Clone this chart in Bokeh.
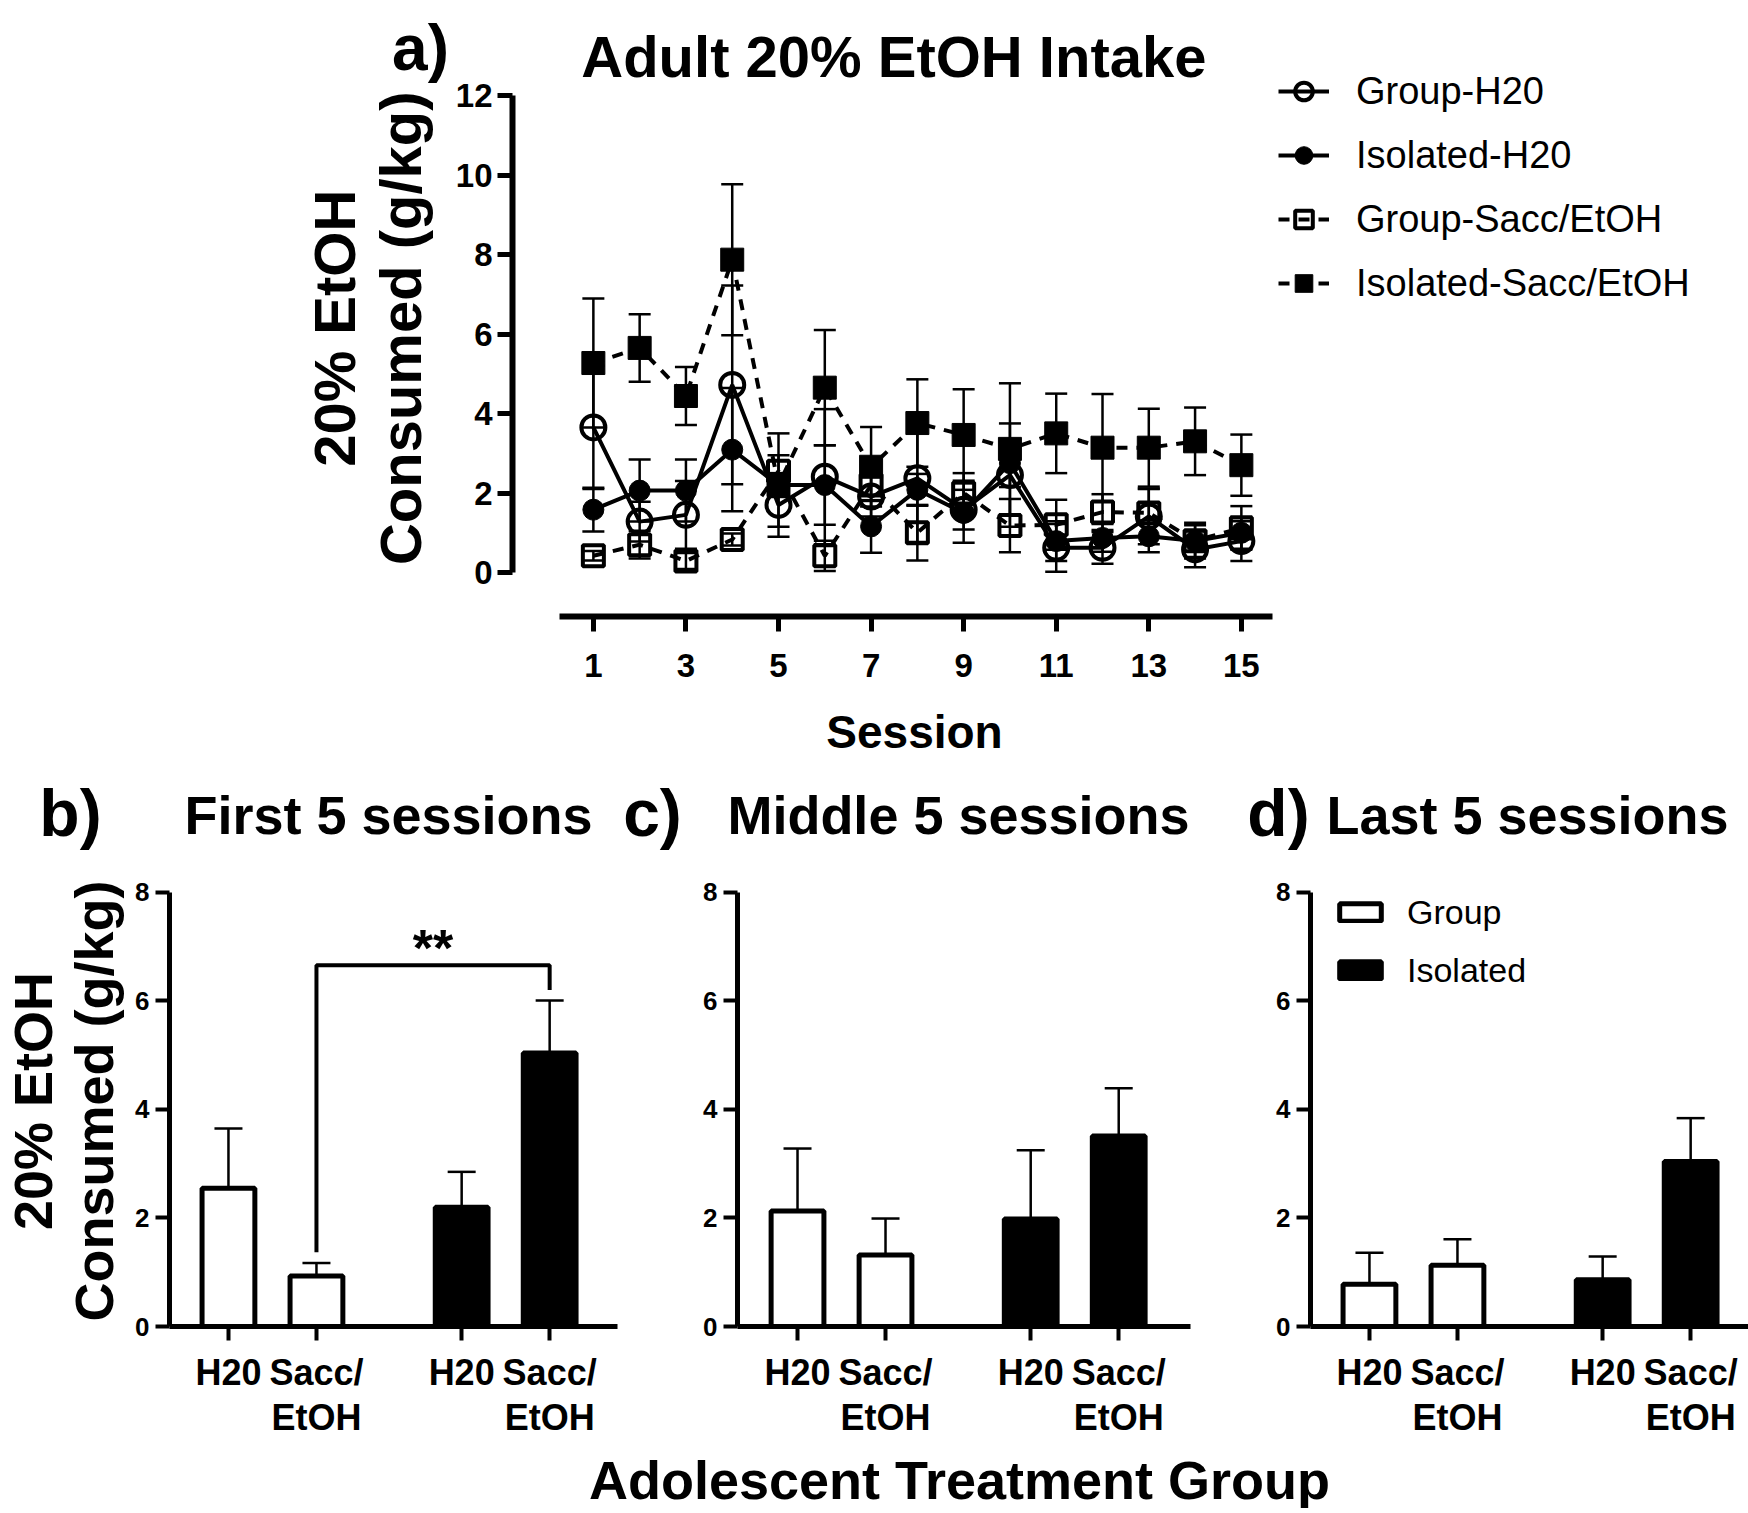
import math
from bokeh.plotting import figure
from bokeh.models import (Range1d, FixedTicker, Whisker, TeeHead, ColumnDataSource,
                          Legend, LegendItem, Label)
from bokeh.layouts import column, row
from bokeh.embed import file_html
from bokeh.resources import INLINE
from bokeh.core.properties import value

FONT = "Liberation Sans"

# ---------------- data ----------------
sessions = [1, 2, 3, 4, 5, 6, 7, 8, 9, 10, 11, 12, 13, 14, 15]
session_ticks = [1, 3, 5, 7, 9, 11, 13, 15]
intake_ticks = [0, 2, 4, 6, 8, 10, 12]

group_h2o_mean = [3.65, 1.28, 1.45, 4.72, 1.70, 2.41, 1.91, 2.37, 1.58, 2.45, 0.62, 0.62, 1.41, 0.58, 0.79]
group_h2o_sem = [1.55, 0.50, 0.85, 2.50, 0.55, 1.70, 0.50, 1.60, 0.50, 1.30, 0.60, 0.40, 0.70, 0.45, 0.50]
iso_h2o_mean = [1.58, 2.06, 2.06, 3.09, 2.20, 2.20, 1.16, 2.08, 1.50, 2.75, 0.79, 0.87, 0.91, 0.79, 1.00]
iso_h2o_sem = [0.55, 0.78, 0.78, 1.55, 0.30, 1.00, 0.66, 0.40, 0.75, 0.60, 0.50, 0.35, 0.40, 0.40, 0.40]
group_sacc_mean = [0.42, 0.70, 0.29, 0.83, 2.55, 0.42, 2.20, 1.00, 2.00, 1.18, 1.20, 1.52, 1.50, 0.80, 1.12]
group_sacc_sem = [0.12, 0.35, 0.20, 0.15, 0.40, 0.38, 0.40, 0.70, 0.50, 0.67, 0.63, 0.45, 0.60, 0.45, 0.55]
iso_sacc_mean = [5.27, 5.65, 4.44, 7.87, 2.20, 4.65, 2.66, 3.76, 3.46, 3.11, 3.50, 3.14, 3.14, 3.30, 2.70]
iso_sacc_sem = [1.62, 0.85, 0.73, 1.90, 1.30, 1.45, 1.00, 1.10, 1.15, 1.65, 1.00, 1.35, 0.98, 0.85, 0.77]

series_names = ["Group-H20", "Isolated-H20", "Group-Sacc/EtOH", "Isolated-Sacc/EtOH"]

bar_positions = [1, 2, 3.65, 4.65]
bar_labels = ["H20", "Sacc/\nEtOH", "H20", "Sacc/\nEtOH"]
bar_housing = ["Group", "Group", "Isolated", "Isolated"]
bar_ticks = [0, 2, 4, 6, 8]

first5_mean = [2.55, 0.93, 2.20, 5.04]
first5_sem = [1.10, 0.24, 0.65, 0.97]
middle5_mean = [2.13, 1.32, 1.98, 3.51]
middle5_sem = [1.15, 0.67, 1.27, 0.88]
last5_mean = [0.78, 1.13, 0.86, 3.04]
last5_sem = [0.58, 0.48, 0.43, 0.80]

sig_pair = [1, 3]          # indices of compared bars in panel b
sig_bracket_level = 6.66
sig_text = "**"


def style_axis(ax, fs, line_w, tick_len, tick_w, standoff):
    ax.axis_line_width = line_w
    ax.axis_line_color = "black"
    ax.major_tick_line_width = tick_w
    ax.major_tick_line_color = "black"
    ax.major_tick_out = tick_len
    ax.major_tick_in = 0
    ax.minor_tick_line_color = None
    ax.major_label_text_font = FONT
    ax.major_label_text_font_style = "bold"
    ax.major_label_text_font_size = f"{fs}px"
    ax.major_label_text_color = "black"
    ax.major_label_standoff = standoff


def base_fig(w, h, xr, yr, left, right, top, bottom):
    p = figure(width=w, height=h, x_range=xr, y_range=yr, title=None,
               output_backend="svg", toolbar_location=None,
               min_border_left=left, min_border_right=right,
               min_border_top=top, min_border_bottom=bottom)
    p.grid.visible = False
    p.outline_line_color = None
    p.background_fill_color = "white"
    p.border_fill_color = "white"
    return p


def text_fig(w, h):
    # pixel-coordinate canvas (y grows downward) that only carries texts
    p = figure(width=w, height=h, x_range=Range1d(0, w), y_range=Range1d(h, 0), title=None,
               x_axis_type=None, y_axis_type=None, output_backend="svg",
               toolbar_location=None, min_border_left=0, min_border_right=0,
               min_border_top=0, min_border_bottom=0)
    p.outline_line_color = None
    p.background_fill_color = "white"
    p.border_fill_color = "white"
    return p


def add_text(p, x, y, text, size, style="bold", angle=0.0):
    p.add_layout(Label(x=x, y=y, text=text, text_font=FONT, text_font_size=f"{size}px",
                       text_font_style=style, text_align="center", text_baseline="middle",
                       angle=angle, text_color="black"))


def add_vtext(p, x, y, text, size):
    # vertical text reading bottom-to-top, centred on (x, y) in pixel coordinates
    add_text(p, x, y + 0.68 * size, text, size, angle=math.pi / 2)


# ---------------- panel a ----------------
ROW_A_H = 700
PA_LEFT_W = 452
PA_W = 1748 - PA_LEFT_W
A_LB = 58                     # frame left inside pa (screen x 510)
A_XS, A_YS = 46.36, 39.75     # px per session, px per g/kg
A_SCREEN_L = PA_LEFT_W + A_LB
ax0 = 1 - (591 - A_SCREEN_L) / A_XS
ax1 = ax0 + (PA_W - A_LB) / A_XS
A_Y0_PX, A_BOTTOM_PX = 572, 616
ay1 = A_Y0_PX / A_YS
ay0 = -(A_BOTTOM_PX - A_Y0_PX) / A_YS

pa = base_fig(PA_W, ROW_A_H, Range1d(ax0, ax1), Range1d(ay0, ay1), A_LB, 0, 0,
              ROW_A_H - A_BOTTOM_PX)
pa.xaxis.ticker = FixedTicker(ticks=session_ticks)
pa.yaxis.ticker = FixedTicker(ticks=intake_ticks)
pa.yaxis.bounds = (intake_ticks[0], intake_ticks[-1])
pa.xaxis.bounds = (ax0 + (557 - A_SCREEN_L) / A_XS, ax0 + (1271 - A_SCREEN_L) / A_XS)
style_axis(pa.xaxis[0], 33, 6, 15, 5, 22)
style_axis(pa.yaxis[0], 33, 6, 15, 5, 5)

all_series = [
    (group_h2o_mean, group_h2o_sem, "circle", False, "solid"),
    (iso_h2o_mean, iso_h2o_sem, "circle", True, "solid"),
    (group_sacc_mean, group_sacc_sem, "square", False, "11 9"),
    (iso_sacc_mean, iso_sacc_sem, "square", True, "11 9"),
]
items = []
for name, (m, s, mk, filled, dash) in zip(series_names, all_series):
    src = ColumnDataSource(dict(x=sessions, y=m,
                                upper=[a + b for a, b in zip(m, s)],
                                lower=[a - b for a, b in zip(m, s)]))
    wh = Whisker(base="x", upper="upper", lower="lower", source=src,
                 line_width=2.5, line_color="black", level="underlay",
                 upper_head=TeeHead(size=22, line_width=2.5, line_color="black"),
                 lower_head=TeeHead(size=22, line_width=2.5, line_color="black"))
    pa.add_layout(wh)
    lr = pa.line("x", "y", source=src, line_width=4, line_color="black", line_dash=dash)
    if filled:
        size = 23 if mk == "square" else 21
        sr = pa.scatter("x", "y", source=src, marker=mk, size=size,
                        fill_color="black", line_color="black", line_width=1)
    else:
        size = 21 if mk == "square" else 24
        sr = pa.scatter("x", "y", source=src, marker=mk, size=size,
                        fill_color=None, line_color="black", line_width=4)
    items.append(LegendItem(label=name, renderers=[lr, sr]))

leg_a = Legend(items=items, location=(1276 - A_SCREEN_L, A_BOTTOM_PX - 305),
               orientation="vertical",
               glyph_width=51, glyph_height=44, label_height=44, spacing=20,
               padding=0, margin=0, label_standoff=27,
               label_text_font=FONT, label_text_font_size="38px", label_text_color="black",
               border_line_color=None, background_fill_alpha=0)
pa.add_layout(leg_a)

add_text(pa, ax0 + (892 - A_SCREEN_L) / A_XS, (A_Y0_PX - 56) / A_YS, "Adult 20% EtOH Intake", 58)

pa_left = text_fig(PA_LEFT_W, ROW_A_H)
add_text(pa_left, 420, 54, "a)", 64)
add_vtext(pa_left, 334, 333, "20% EtOH", 58)
add_vtext(pa_left, 400, 333, "Consumed (g/kg)", 58)

# ---------------- header strip (Session label + panel titles) ----------------
HDR_TOP, HDR_H = ROW_A_H, 160
hdr = text_fig(1748, HDR_H)
add_text(hdr, 914, 731 - HDR_TOP, "Session", 46)
add_text(hdr, 70, 812 - HDR_TOP, "b)", 66)
add_text(hdr, 388, 814 - HDR_TOP, "First 5 sessions", 54)
add_text(hdr, 652, 812 - HDR_TOP, "c)", 66)
add_text(hdr, 958, 814 - HDR_TOP, "Middle 5 sessions", 54)
add_text(hdr, 1278, 812 - HDR_TOP, "d)", 66)
add_text(hdr, 1527, 814 - HDR_TOP, "Last 5 sessions", 54)

# ---------------- bottom panels ----------------
B_TOP = HDR_TOP + HDR_H       # 860
B_H = 580
B_Y8_PX, B_Y0_PX = 892 - B_TOP, 1329 - B_TOP
B_YS = (B_Y0_PX - B_Y8_PX) / 8.0
B_FT = 20
by1 = 8 + (B_Y8_PX - B_FT) / B_YS
B_XS = 88.0
YLAB_W = 128


def bar_panel(width, left, right_border, x0, means, sems, legend=False, sig=False):
    x1 = x0 + (width - right_border - left) / B_XS
    p = base_fig(width, B_H, Range1d(x0, x1), Range1d(0, by1), left, right_border,
                 B_FT, B_H - B_Y0_PX)

    p.xaxis.ticker = FixedTicker(ticks=bar_positions)
    p.xaxis.major_label_overrides = {pos: lab for pos, lab in zip(bar_positions, bar_labels)}
    p.yaxis.ticker = FixedTicker(ticks=bar_ticks)
    p.yaxis.bounds = (bar_ticks[0], bar_ticks[-1])
    style_axis(p.xaxis[0], 36, 5, 14, 4, 11)
    p.xaxis.major_label_text_line_height = 1.1
    style_axis(p.yaxis[0], 26, 5, 14, 4, 6)

    g_idx = [i for i, h in enumerate(bar_housing) if h == "Group"]
    i_idx = [i for i, h in enumerate(bar_housing) if h == "Isolated"]
    gsrc = ColumnDataSource(dict(x=[bar_positions[i] for i in g_idx], top=[means[i] for i in g_idx]))
    isrc = ColumnDataSource(dict(x=[bar_positions[i] for i in i_idx], top=[means[i] for i in i_idx]))
    rg = p.vbar(x="x", top="top", bottom=0, width=0.6, source=gsrc,
                fill_color="white", line_color="black", line_width=5)
    ri = p.vbar(x="x", top="top", bottom=0, width=0.6, source=isrc,
                fill_color="black", line_color="black", line_width=5)
    esrc = ColumnDataSource(dict(x=bar_positions,
                                 upper=[a + b for a, b in zip(means, sems)],
                                 lower=[a - b for a, b in zip(means, sems)]))
    p.add_layout(Whisker(base="x", upper="upper", lower="lower", source=esrc,
                         line_width=2.5, line_color="black",
                         upper_head=TeeHead(size=28, line_width=2.5, line_color="black"),
                         lower_head=TeeHead(size=28, line_width=2.5, line_color="black")))

    if sig:
        a, b = sig_pair
        xa, xb = bar_positions[a], bar_positions[b]
        ya = means[a] + sems[a] + 0.2
        yb = means[b] + sems[b] + 0.19
        p.line([xa, xa, xb, xb], [ya, sig_bracket_level, sig_bracket_level, yb],
               line_width=4, line_color="black")
        p.text(x=[(xa + xb) / 2], y=[sig_bracket_level + 0.32], text=[sig_text],
               text_font=value(FONT), text_font_size="52px", text_font_style="bold",
               text_align="center", text_baseline="middle", text_color="black")

    if legend:
        lg = Legend(items=[LegendItem(label="Group", renderers=[rg]),
                           LegendItem(label="Isolated", renderers=[ri])],
                    location=(24, 336), orientation="vertical",
                    glyph_width=52, glyph_height=22, label_height=40, spacing=18,
                    padding=0, margin=0, label_standoff=21,
                    label_text_font=FONT, label_text_font_size="34px", label_text_color="black",
                    border_line_color=None, background_fill_alpha=0)
        p.add_layout(lg)
    return p


ylab_b = text_fig(YLAB_W, B_H)
add_vtext(ylab_b, 32, 1110 - B_TOP, "20% EtOH", 54)
add_vtext(ylab_b, 93, 1110 - B_TOP, "Consumed (g/kg)", 54)

pb = bar_panel(618 - YLAB_W, 169 - YLAB_W, 1, 0.33, first5_mean, first5_sem, sig=True)
pc = bar_panel(615, 119, 43, 0.318, middle5_mean, middle5_sem)
pd_ = bar_panel(515, 77, 0, 0.33, last5_mean, last5_sem, legend=True)

# ---------------- shared x label ----------------
L_TOP, L_H = B_TOP + B_H, 68
pl = text_fig(1748, L_H)
add_text(pl, 959, 1479 - L_TOP, "Adolescent Treatment Group", 54)

layout = column(row(pa_left, pa), hdr, row(ylab_b, pb, pc, pd_), pl)
open("out.html", "w").write(file_html(layout, INLINE))
